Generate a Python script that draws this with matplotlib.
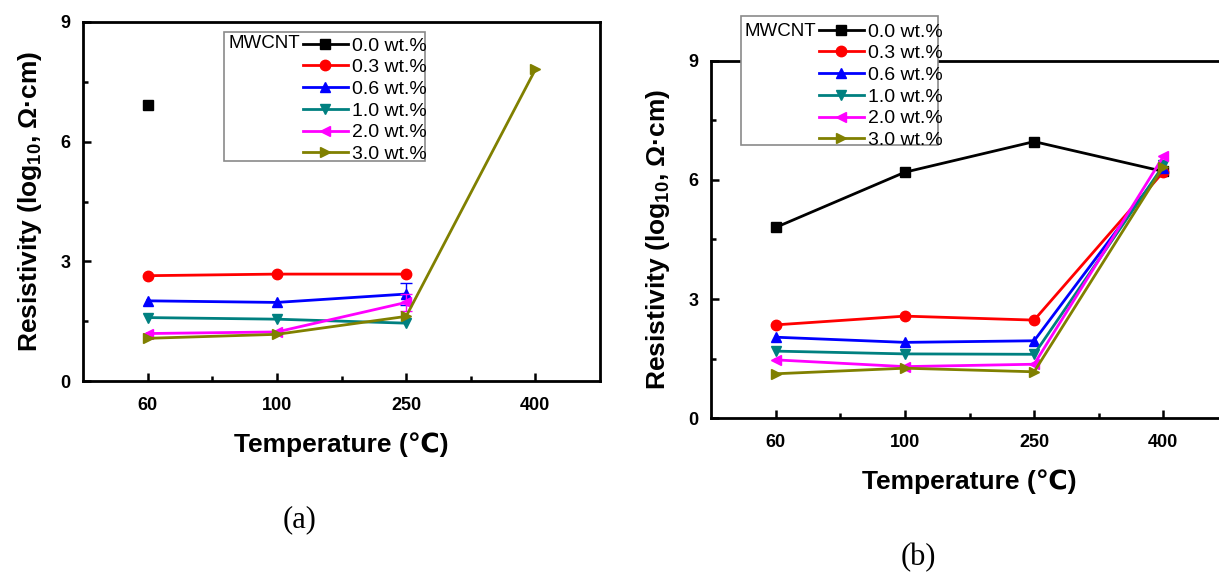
import numpy as np
import matplotlib
matplotlib.use("Agg")
import matplotlib.pyplot as plt
from matplotlib.lines import Line2D
from matplotlib.patches import Rectangle
from matplotlib.ticker import FixedLocator

plt.rcParams['font.family'] = ['Liberation Sans', 'DejaVu Sans']
plt.rcParams['mathtext.fontset'] = 'custom'
plt.rcParams['mathtext.bf'] = 'Liberation Sans:bold'
plt.rcParams['mathtext.rm'] = 'Liberation Sans:bold'

# ---------------- data ----------------
temperatures = ["60", "100", "250", "400"]
series_labels = ["0.0 wt.%", "0.3 wt.%", "0.6 wt.%", "1.0 wt.%", "2.0 wt.%", "3.0 wt.%"]

nan = np.nan
# panel (a)
a_00 = [6.93, nan, nan, nan]
a_03 = [2.64, 2.68, 2.68, nan]
a_06 = [2.01, 1.97, 2.18, nan]
a_10 = [1.59, 1.55, 1.45, nan]
a_20 = [1.19, 1.23, 1.97, nan]
a_30 = [1.07, 1.17, 1.62, 7.81]
a_err_06 = [0.0, 0.0, 0.28, 0.0]
a_err_20 = [0.0, 0.0, 0.22, 0.0]

# panel (b)
b_00 = [4.80, 6.19, 6.96, 6.21]
b_03 = [2.35, 2.57, 2.47, 6.20]
b_06 = [2.04, 1.91, 1.95, 6.29]
b_10 = [1.69, 1.62, 1.61, 6.36]
b_20 = [1.47, 1.30, 1.36, 6.59]
b_30 = [1.12, 1.26, 1.17, 6.33]

colors = ["#000000", "#ff0000", "#0000ff", "#008080", "#ff00ff", "#808000"]
markers = ["s", "o", "^", "v", "<", ">"]

W, H = 1219, 575
fig = plt.figure(figsize=(W / 100, H / 100), dpi=100)


def px_axes(left, top, right, bottom):
    return [left / W, 1 - bottom / H, (right - left) / W, (bottom - top) / H]


def style_axes(ax):
    x = np.arange(1, len(temperatures) + 1)
    ax.set_xlim(0.5, len(temperatures) + 0.5)
    ax.set_ylim(0, 9)
    ax.set_xticks(x)
    ax.set_xticklabels(temperatures, fontweight='bold', fontsize=13)
    ax.xaxis.set_minor_locator(FixedLocator(x[:-1] + 0.5))
    ax.set_yticks([0, 3, 6, 9])
    ax.set_yticklabels(["0", "3", "6", "9"], fontweight='bold', fontsize=13)
    ax.yaxis.set_minor_locator(FixedLocator([1.5, 4.5, 7.5]))
    ax.tick_params(which='both', direction='in', width=1.8, top=False, right=False)
    ax.tick_params(which='major', length=6)
    ax.tick_params(axis='x', which='major', pad=11.5)
    ax.tick_params(axis='y', which='major', pad=9)
    ax.tick_params(which='minor', length=3.5)
    for s in ax.spines.values():
        s.set_linewidth(2.0)
    ax.set_xlabel("Temperature (℃)", fontsize=19, fontweight='bold', labelpad=13)
    ax.set_ylabel(r"Resistivity (log$_{\mathbf{10}}$, Ω·cm)", fontsize=19,
                  fontweight='bold', labelpad=12)


def plot_series(ax, data, errs=None):
    x = np.arange(1, len(temperatures) + 1)
    for i, y in enumerate(data):
        y = np.asarray(y, dtype=float)
        ax.plot(x, y, color=colors[i], marker=markers[i], lw=2.0, ms=7.5,
                clip_on=False, zorder=3 + i)
        if errs and i in errs:
            e = np.asarray(errs[i])
            m = e > 0
            ax.errorbar(x[m], y[m], yerr=e[m], fmt='none', ecolor=colors[i],
                        elinewidth=1.0, capsize=4, capthick=1.0, zorder=3 + i)


def legend_block(box, handle_left, first_row_top, title_x, title_y):
    bx0, by0, bx1, by1 = box
    fig.patches.append(Rectangle((bx0 / W, 1 - by1 / H), (bx1 - bx0) / W, (by1 - by0) / H,
                                 transform=fig.transFigure, facecolor='white',
                                 edgecolor='#8a8a8a', lw=1.2, zorder=4))
    fig.text(title_x / W, 1 - title_y / H, "MWCNT", fontsize=13.5, ha='left', va='center',
             zorder=6)
    handles = [Line2D([], [], color=c, marker=m, lw=2.0, ms=7.5)
               for c, m in zip(colors, markers)]
    leg = fig.legend(handles, series_labels, loc='upper left',
                     bbox_to_anchor=(handle_left / W, 1 - first_row_top / H),
                     frameon=False, fontsize=14, handlelength=2.3, handletextpad=0.2,
                     labelspacing=0.21, borderpad=0, borderaxespad=0)
    leg.set_zorder(6)


# panel (a)
axa = fig.add_axes(px_axes(83, 22, 600, 381))
plot_series(axa, [a_00, a_03, a_06, a_10, a_20, a_30], errs={2: a_err_06, 4: a_err_20})
style_axes(axa)
legend_block((224, 32, 425, 161), 303, 37, 228, 44)

# panel (b)
axb = fig.add_axes(px_axes(711, 60.5, 1228, 418.3))
plot_series(axb, [b_00, b_03, b_06, b_10, b_20, b_30])
style_axes(axb)
legend_block((741, 16, 938, 145), 819, 23, 744, 31)

fig.text(300 / W, 1 - 520 / H, "(a)", fontsize=22, family='Liberation Serif',
         ha='center', va='center')
fig.text(918 / W, 1 - 558 / H, "(b)", fontsize=22, family='Liberation Serif',
         ha='center', va='center')

fig.savefig("out.png", dpi=100)
